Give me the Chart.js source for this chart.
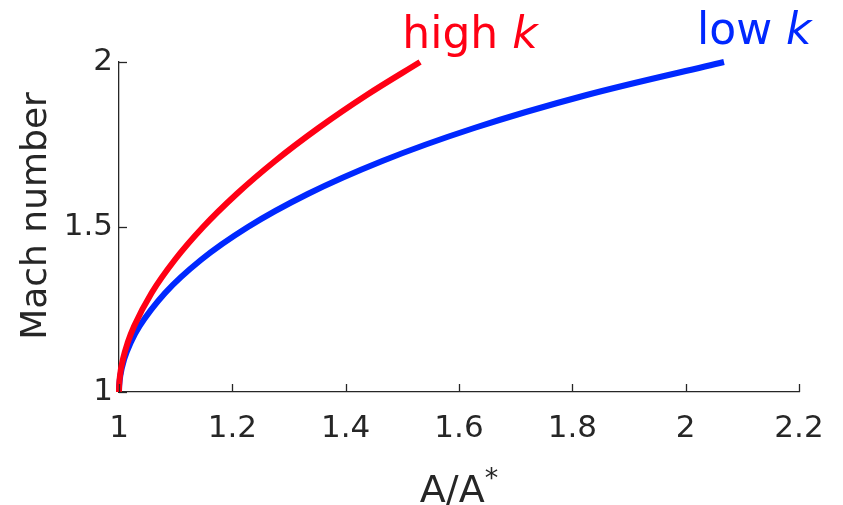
<!DOCTYPE html>
<html>
<head>
<meta charset="utf-8">
<script src="https://cdn.jsdelivr.net/npm/chart.js@4.4.0/dist/chart.umd.min.js"></script>
<style>
  html, body { margin: 0; padding: 0; background: #fff; }
</style>
</head>
<body>
<canvas id="machChart" width="843" height="505"></canvas>
<script>
// Mach number against area ratio
var machValues = [1, 1.01, 1.02, 1.05, 1.1, 1.15, 1.2, 1.3, 1.4, 1.5, 1.6, 1.7, 1.8, 1.9, 2];
var areaHighK  = [1, 1.0001, 1.0003, 1.0018, 1.0071, 1.0154, 1.0268, 1.0575, 1.0983, 1.1484, 1.2076, 1.2754, 1.352, 1.4372, 1.5313];
var areaLowK   = [1, 1.0001, 1.0004, 1.0024, 1.0093, 1.0207, 1.0365, 1.0813, 1.1444, 1.2275, 1.3331, 1.4647, 1.6268, 1.8253, 2.0676];
var xTicks = [1, 1.2, 1.4, 1.6, 1.8, 2, 2.2];
var yTicks = [1, 1.5, 2];
var curveNames = ['high', 'low'];

var RED = 'rgb(255,0,20)';
var BLUE = 'rgb(0,40,255)';
var AXIS = '#262626';
var FONT = '"DejaVu Sans", Verdana, sans-serif';

function toPoints(xs) {
    return xs.map(function(x, i) { return {x: x, y: machValues[i]}; });
}

// inward tick marks, axis titles and the curve labels
var decorations = {
    id: 'decorations',
    afterDatasetsDraw: function(chart) {
        var ctx = chart.ctx;
        var xs = chart.scales.x, ys = chart.scales.y;
        var area = chart.chartArea;
        ctx.save();
        ctx.strokeStyle = AXIS;
        ctx.lineWidth = 1.3;
        xTicks.forEach(function(v) {
            var px = Math.round(xs.getPixelForValue(v)) + 0.5;
            ctx.beginPath();
            ctx.moveTo(px, area.bottom);
            ctx.lineTo(px, area.bottom - 8);
            ctx.stroke();
        });
        yTicks.forEach(function(v) {
            var py = Math.round(ys.getPixelForValue(v)) + 0.5;
            ctx.beginPath();
            ctx.moveTo(area.left, py);
            ctx.lineTo(area.left + 8, py);
            ctx.stroke();
        });

        ctx.fillStyle = AXIS;
        // y title
        ctx.save();
        ctx.font = '36px ' + FONT;
        ctx.textAlign = 'center';
        ctx.textBaseline = 'alphabetic';
        ctx.translate(46, 216);
        ctx.rotate(-Math.PI / 2);
        ctx.fillText('Mach number', 0, 0);
        ctx.restore();

        // x title with superscript star
        ctx.font = '38px ' + FONT;
        ctx.textAlign = 'left';
        ctx.textBaseline = 'alphabetic';
        var main = 'A/A';
        var w = ctx.measureText(main).width;
        ctx.font = '27px ' + FONT;
        var sw = ctx.measureText('*').width;
        var cx = (area.left + area.right) / 2;
        var left = cx - (w + sw) / 2;
        ctx.font = '38px ' + FONT;
        ctx.fillText(main, left, 502);
        ctx.font = '27px ' + FONT;
        ctx.fillText('*', left + w, 487);

        // curve labels
        var labels = [
            {name: curveNames[0], color: RED, x: 1.5, y: 2.042},
            {name: curveNames[1], color: BLUE, x: 2.02, y: 2.056}
        ];
        labels.forEach(function(l) {
            var px = xs.getPixelForValue(l.x);
            var py = ys.getPixelForValue(l.y);
            ctx.fillStyle = l.color;
            ctx.font = '44px ' + FONT;
            var t = l.name + ' ';
            ctx.fillText(t, px, py);
            var tw = ctx.measureText(t).width;
            ctx.font = 'italic 44px ' + FONT;
            ctx.fillText('k', px + tw, py);
        });
        ctx.restore();
    }
};

var ctx = document.getElementById('machChart').getContext('2d');
var machChart = new Chart(ctx, {
    type: 'line',
    data: {
        datasets: [{
            label: curveNames[0] + ' k',
            data: toPoints(areaHighK),
            borderColor: RED,
            borderWidth: 6,
            pointRadius: 0,
            cubicInterpolationMode: 'monotone',
            clip: false
        }, {
            label: curveNames[1] + ' k',
            data: toPoints(areaLowK),
            borderColor: BLUE,
            borderWidth: 6,
            pointRadius: 0,
            cubicInterpolationMode: 'monotone',
            clip: false
        }]
    },
    options: {
        responsive: false,
        animation: false,
        devicePixelRatio: 1,
        layout: { padding: { top: 62, right: 44, left: 0, bottom: 0 } },
        plugins: { legend: { display: false }, tooltip: { enabled: false } },
        scales: {
            x: {
                type: 'linear',
                min: 1,
                max: 2.2,
                afterBuildTicks: function(scale) {
                    scale.ticks = xTicks.map(function(v) { return {value: v}; });
                },
                afterFit: function(scale) { scale.height = 113; },
                grid: { display: false, drawTicks: false },
                border: { display: true, color: AXIS, width: 1.3 },
                ticks: {
                    color: AXIS,
                    font: { family: FONT, size: 31 },
                    padding: 18,
                    maxRotation: 0,
                    callback: function(v) { return String(Math.round(v * 10) / 10); }
                }
            },
            y: {
                type: 'linear',
                min: 1,
                max: 2,
                afterBuildTicks: function(scale) {
                    scale.ticks = yTicks.map(function(v) { return {value: v}; });
                },
                afterFit: function(scale) { scale.width = 119; },
                grid: { display: false, drawTicks: false },
                border: { display: true, color: AXIS, width: 1.3 },
                ticks: {
                    color: AXIS,
                    font: { family: FONT, size: 31 },
                    padding: 6,
                    callback: function(v) { return String(Math.round(v * 10) / 10); }
                }
            }
        }
    },
    plugins: [decorations]
});
</script>
</body>
</html>
